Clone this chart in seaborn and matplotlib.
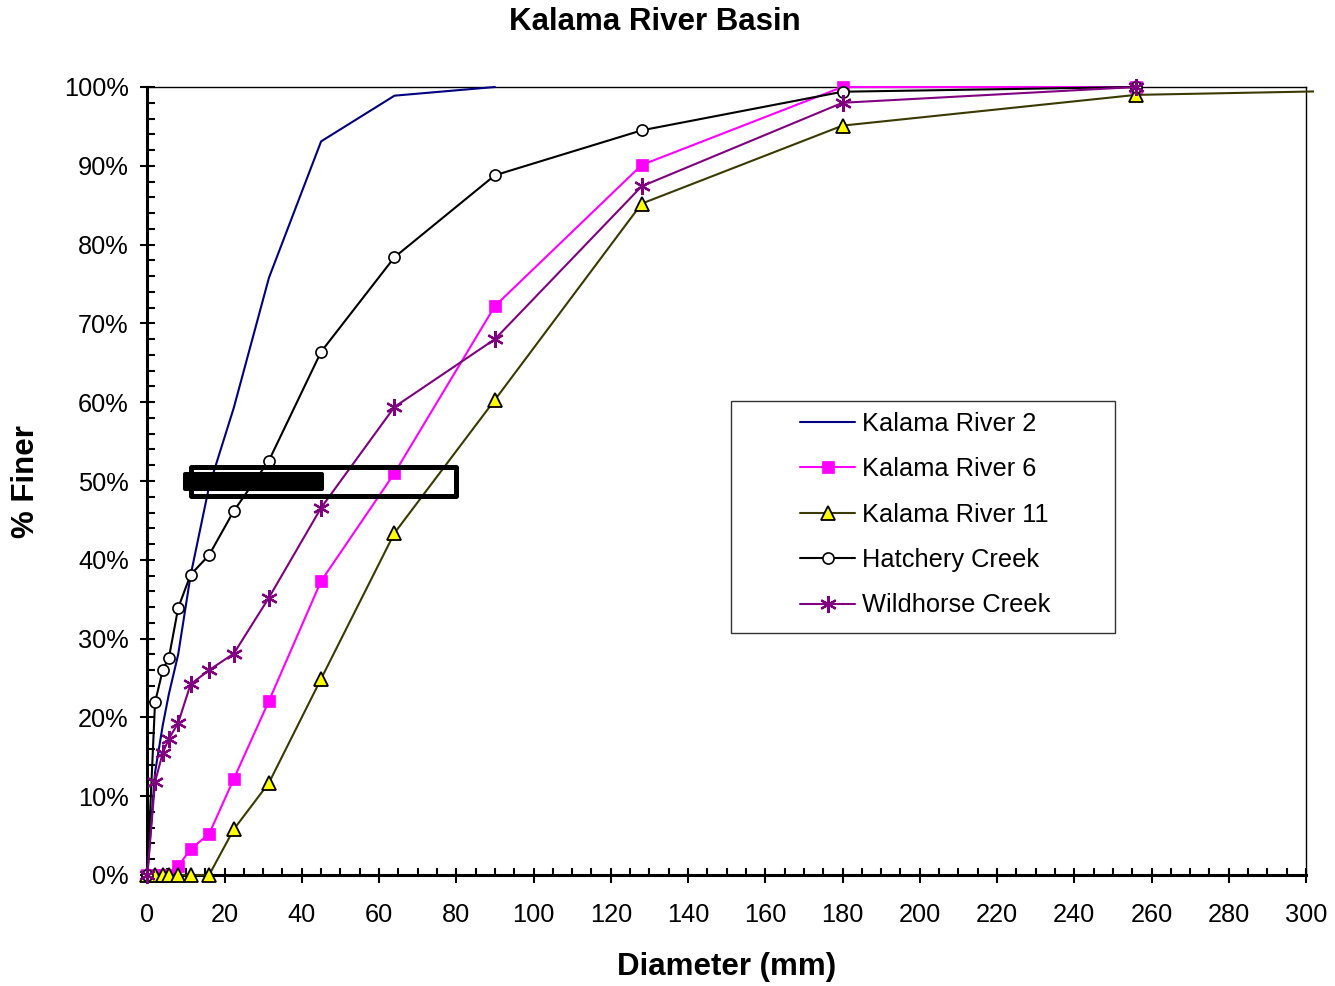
import matplotlib
matplotlib.use("Agg")
import matplotlib.pyplot as plt
import seaborn as sns
from matplotlib.ticker import MultipleLocator, PercentFormatter
from matplotlib.patches import Rectangle

# Sieve diameters (mm) and percent finer for each sampling site
sizes_mm = [0, 2, 4, 5.6, 8, 11.2, 16, 22.4, 31.5, 45, 64, 90, 128, 180, 256]

kalama2_x = sizes_mm[:12]
kalama2 = [0, 13, 19, 23, 28, 38, 49.3, 59.3, 75.8, 93.1, 98.9, 100]

kalama6_x = sizes_mm
kalama6 = [0, 0, 0, 0, 1.1, 3.3, 5.2, 12.2, 22.1, 37.3, 51.0, 72.2, 90.1, 100, 100]

kalama11_x = sizes_mm + [362]
kalama11 = [0, 0, 0, 0, 0, 0, 0, 5.8, 11.7, 24.9, 43.4, 60.3, 85.2, 95.1, 99.0, 100]

hatchery_x = sizes_mm
hatchery = [0, 21.9, 26.0, 27.6, 33.9, 38.1, 40.6, 46.2, 52.6, 66.4, 78.4, 88.8, 94.5, 99.4, 100]

wildhorse_x = sizes_mm
wildhorse = [0, 11.8, 15.5, 17.3, 19.3, 24.2, 26.0, 28.1, 35.2, 46.6, 59.4, 68.0, 87.4, 98.0, 100]

labels = ["Kalama River 2", "Kalama River 6", "Kalama River 11",
          "Hatchery Creek", "Wildhorse Creek"]

sns.set_theme(style="white")
plt.rcParams["font.family"] = ["Liberation Sans", "DejaVu Sans"]
plt.rcParams.update({
    "axes.edgecolor": "black",
    "text.color": "black",
    "axes.labelcolor": "black",
    "xtick.color": "black",
    "ytick.color": "black",
})

W, H = 1335, 986
fig = plt.figure(figsize=(W / 100, H / 100), dpi=100)
x0, x1, y0, y1 = 147.3, 1306, 875, 87
ax = fig.add_axes([x0 / W, 1 - y0 / H, (x1 - x0) / W, (y0 - y1) / H])
ax.set_facecolor("white")

styles = [
    dict(color="#000080", marker=None),
    dict(color="#FF00FF", marker="s", markersize=8.5, markerfacecolor="#FF00FF",
         markeredgecolor="#FF00FF", markeredgewidth=0.5),
    dict(color="#3A3A00", marker="^", markersize=10, markerfacecolor="#FFFF00",
         markeredgecolor="black", markeredgewidth=1.3),
    dict(color="black", marker="o", markersize=8, markerfacecolor="white",
         markeredgecolor="black", markeredgewidth=1.2),
    dict(color="#800080", marker=(6, 2, 0), markersize=12,
         markeredgecolor="#800080", markeredgewidth=1.6),
]
series = [(kalama2_x, kalama2), (kalama6_x, kalama6), (kalama11_x, kalama11),
          (hatchery_x, hatchery), (wildhorse_x, wildhorse)]

handles = []
for (xs, ys), st in zip(series, styles):
    sns.lineplot(x=xs, y=ys, ax=ax, estimator=None, sort=False,
                 linewidth=1.5, legend=False, **st)
    line = ax.lines[-1]
    line.set_clip_on(False)
    handles.append(line)

# The coarsest series runs just past the right edge of the plot area
k11 = handles[2]
k11.set_clip_on(True)
k11.set_clip_path(Rectangle((-10, -10), 312, 120, transform=ax.transData))

ax.set_xlim(0, 300)
ax.set_ylim(0, 100)
ax.xaxis.set_major_locator(MultipleLocator(20))
ax.xaxis.set_minor_locator(MultipleLocator(5))
ax.yaxis.set_major_locator(MultipleLocator(10))
ax.yaxis.set_minor_locator(MultipleLocator(2))
ax.yaxis.set_major_formatter(PercentFormatter(xmax=100, decimals=0))

ax.tick_params(which="major", direction="inout", length=10.8, width=1.5,
               color="black", labelsize=18.3, labelcolor="black",
               bottom=True, left=True, top=False, right=False)
ax.tick_params(axis="x", which="major", pad=15)
ax.tick_params(axis="y", which="major", pad=8)
ax.tick_params(which="minor", direction="in", length=5.4, width=1.5,
               color="black", bottom=True, left=True, top=False, right=False)

for side in ["left", "bottom"]:
    ax.spines[side].set_linewidth(2.2)
for side in ["top", "right"]:
    ax.spines[side].set_linewidth(1.0)
for sp in ax.spines.values():
    sp.set_color("black")
    sp.set_zorder(1.5)

# Median-diameter callout box
ax.add_patch(Rectangle((11.26, 48.1), 68.6, 3.7, fill=False, edgecolor="black",
                       linewidth=3.6, joinstyle="round", clip_on=False, zorder=5))
ax.add_patch(Rectangle((9.84, 49.02), 35.4, 1.83, facecolor="black",
                       edgecolor="black", linewidth=2.9, joinstyle="round",
                       clip_on=False, zorder=5))

# Legend with its own box
fig.patches.append(Rectangle((731 / W, 1 - 633 / H), 384 / W, 232 / H,
                             transform=fig.transFigure, facecolor="white",
                             edgecolor="#333333", linewidth=1.0, zorder=4))
leg = fig.legend(handles, labels, loc="upper left",
                 bbox_to_anchor=(800 / W, 1 - 412 / H), frameon=False,
                 fontsize=18.3, borderpad=0, borderaxespad=0,
                 handlelength=2.17, handletextpad=0.28, labelspacing=0.84)
leg.set_zorder(6)

fig.text(655 / W, 1 - 22 / H, "Kalama River Basin", ha="center", va="center",
         fontsize=22.5, fontweight="bold")
fig.text((x0 + x1) / 2 / W, 1 - 967 / H, "Diameter (mm)", ha="center",
         va="center", fontsize=22.5, fontweight="bold")
fig.text(26 / W, 1 - 482 / H, "% Finer", ha="center", va="center",
         rotation=90, fontsize=22.5, fontweight="bold")

fig.savefig("out.png", dpi=100, facecolor="white")
